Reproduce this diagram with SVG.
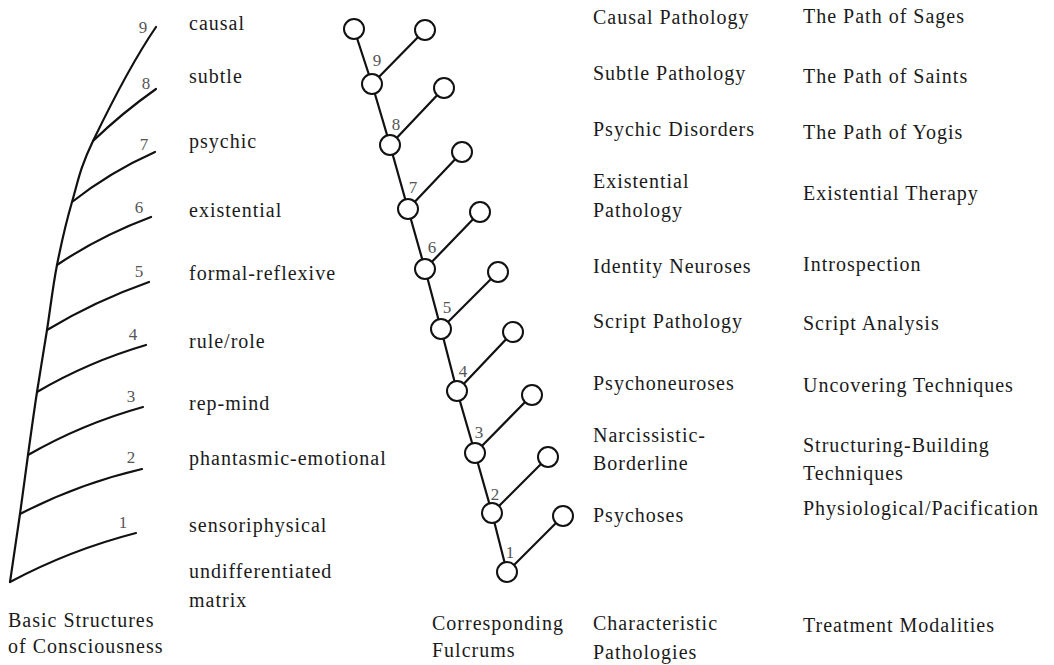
<svg xmlns="http://www.w3.org/2000/svg" width="1054" height="665" viewBox="0 0 1054 665">
<style>
  .t { font-family: "Liberation Serif", "DejaVu Serif", serif; font-size: 20px; letter-spacing: 1px; fill: #1a1a1a; }
  .n { font-family: "Liberation Serif", "DejaVu Serif", serif; font-size: 17px; fill: #555; text-anchor: middle; }
  .ln { fill: none; stroke: #111; stroke-width: 2.2; stroke-linecap: round; }
  .c { fill: #fff; stroke: #111; stroke-width: 2; }
</style>
<rect width="1054" height="665" fill="#fff"/>

<g id="basic-structures">
  <path class="ln" d="M10,582 C13.3,559.3 17,535.2 20,514 C23,492.8 25.2,475.3 28,455 C30.8,434.7 33.8,412.8 37,392 C40.2,371.2 43.7,351.2 47,330 C50.3,308.8 52.8,286.3 57,265 C61.2,243.7 66,222.7 72,202 C78,181.3 80,168 93,141 C107,112 132,62 156,27"/>
  <path class="ln" d="M93,141 Q122,113 156,89"/>
  <path class="ln" d="M72,202 Q110,172 155,152"/>
  <path class="ln" d="M57,265 Q100,236 151,217"/>
  <path class="ln" d="M47,330 Q95,301 149,282"/>
  <path class="ln" d="M37,392 Q88,362 146,345"/>
  <path class="ln" d="M28,455 Q82,424 143,407"/>
  <path class="ln" d="M20,514 Q78,484 142,469"/>
  <path class="ln" d="M10,582 Q70,550 136,533"/>
  <text class="n" x="143" y="33">9</text>
  <text class="n" x="146" y="89">8</text>
  <text class="n" x="144" y="150">7</text>
  <text class="n" x="139" y="213">6</text>
  <text class="n" x="139" y="277">5</text>
  <text class="n" x="133" y="340">4</text>
  <text class="n" x="131" y="402">3</text>
  <text class="n" x="131" y="463">2</text>
  <text class="n" x="123" y="528">1</text>
</g>

<g id="structure-labels">
  <text class="t" x="189" y="30">causal</text>
  <text class="t" x="189" y="83">subtle</text>
  <text class="t" x="189" y="148">psychic</text>
  <text class="t" x="189" y="217">existential</text>
  <text class="t" x="189" y="280">formal-reflexive</text>
  <text class="t" x="189" y="348">rule/role</text>
  <text class="t" x="189" y="410">rep-mind</text>
  <text class="t" x="189" y="465">phantasmic-emotional</text>
  <text class="t" x="189" y="532">sensoriphysical</text>
  <text class="t" x="189" y="578">undifferentiated</text>
  <text class="t" x="189" y="607">matrix</text>
</g>

<g id="connectors">
  <path class="ln" d="M354,29 L372,84 L390,145 L408,209 L425,269 L441,329 L457,391 L475,453 L492,513 L507,572" stroke-linejoin="round"/>
  <line class="ln" x1="372" y1="84" x2="425" y2="30"/>
  <line class="ln" x1="390" y1="145" x2="444" y2="88"/>
  <line class="ln" x1="408" y1="209" x2="462" y2="152"/>
  <line class="ln" x1="425" y1="269" x2="480" y2="212"/>
  <line class="ln" x1="441" y1="329" x2="498" y2="272"/>
  <line class="ln" x1="457" y1="391" x2="513" y2="332"/>
  <line class="ln" x1="475" y1="453" x2="532" y2="395"/>
  <line class="ln" x1="492" y1="513" x2="548" y2="457"/>
  <line class="ln" x1="507" y1="572" x2="563" y2="516"/>
</g>

<g id="fulcrum-top"><circle class="c" cx="354" cy="29" r="10"/></g>
<g id="fulcrum-9"><circle class="c" cx="372" cy="84" r="10"/><circle class="c" cx="425" cy="30" r="10"/><text class="n" x="377" y="66">9</text></g>
<g id="fulcrum-8"><circle class="c" cx="390" cy="145" r="10"/><circle class="c" cx="444" cy="88" r="10"/><text class="n" x="396" y="130">8</text></g>
<g id="fulcrum-7"><circle class="c" cx="408" cy="209" r="10"/><circle class="c" cx="462" cy="152" r="10"/><text class="n" x="413" y="193">7</text></g>
<g id="fulcrum-6"><circle class="c" cx="425" cy="269" r="10"/><circle class="c" cx="480" cy="212" r="10"/><text class="n" x="432" y="253">6</text></g>
<g id="fulcrum-5"><circle class="c" cx="441" cy="329" r="10"/><circle class="c" cx="498" cy="272" r="10"/><text class="n" x="447" y="313">5</text></g>
<g id="fulcrum-4"><circle class="c" cx="457" cy="391" r="10"/><circle class="c" cx="513" cy="332" r="10"/><text class="n" x="463" y="377">4</text></g>
<g id="fulcrum-3"><circle class="c" cx="475" cy="453" r="10"/><circle class="c" cx="532" cy="395" r="10"/><text class="n" x="479" y="438">3</text></g>
<g id="fulcrum-2"><circle class="c" cx="492" cy="513" r="10"/><circle class="c" cx="548" cy="457" r="10"/><text class="n" x="495" y="500">2</text></g>
<g id="fulcrum-1"><circle class="c" cx="507" cy="572" r="10"/><circle class="c" cx="563" cy="516" r="10"/><text class="n" x="510" y="558">1</text></g>

<g id="pathologies">
  <text class="t" x="593" y="24">Causal Pathology</text>
  <text class="t" x="593" y="80">Subtle Pathology</text>
  <text class="t" x="593" y="136">Psychic Disorders</text>
  <text class="t" x="593" y="188">Existential</text>
  <text class="t" x="593" y="217">Pathology</text>
  <text class="t" x="593" y="273">Identity Neuroses</text>
  <text class="t" x="593" y="328">Script Pathology</text>
  <text class="t" x="593" y="390">Psychoneuroses</text>
  <text class="t" x="593" y="442">Narcissistic-</text>
  <text class="t" x="593" y="470">Borderline</text>
  <text class="t" x="593" y="522">Psychoses</text>
</g>

<g id="treatments">
  <text class="t" x="803" y="23">The Path of Sages</text>
  <text class="t" x="803" y="83">The Path of Saints</text>
  <text class="t" x="803" y="139">The Path of Yogis</text>
  <text class="t" x="803" y="200">Existential Therapy</text>
  <text class="t" x="803" y="271">Introspection</text>
  <text class="t" x="803" y="330">Script Analysis</text>
  <text class="t" x="803" y="392">Uncovering Techniques</text>
  <text class="t" x="803" y="452">Structuring-Building</text>
  <text class="t" x="803" y="480">Techniques</text>
  <text class="t" x="803" y="515">Physiological/Pacification</text>
</g>

<g id="column-titles">
  <text class="t" x="8" y="627">Basic Structures</text>
  <text class="t" x="8" y="653">of Consciousness</text>
  <text class="t" x="432" y="630">Corresponding</text>
  <text class="t" x="432" y="657">Fulcrums</text>
  <text class="t" x="593" y="630">Characteristic</text>
  <text class="t" x="593" y="659">Pathologies</text>
  <text class="t" x="803" y="632">Treatment Modalities</text>
</g>
</svg>
